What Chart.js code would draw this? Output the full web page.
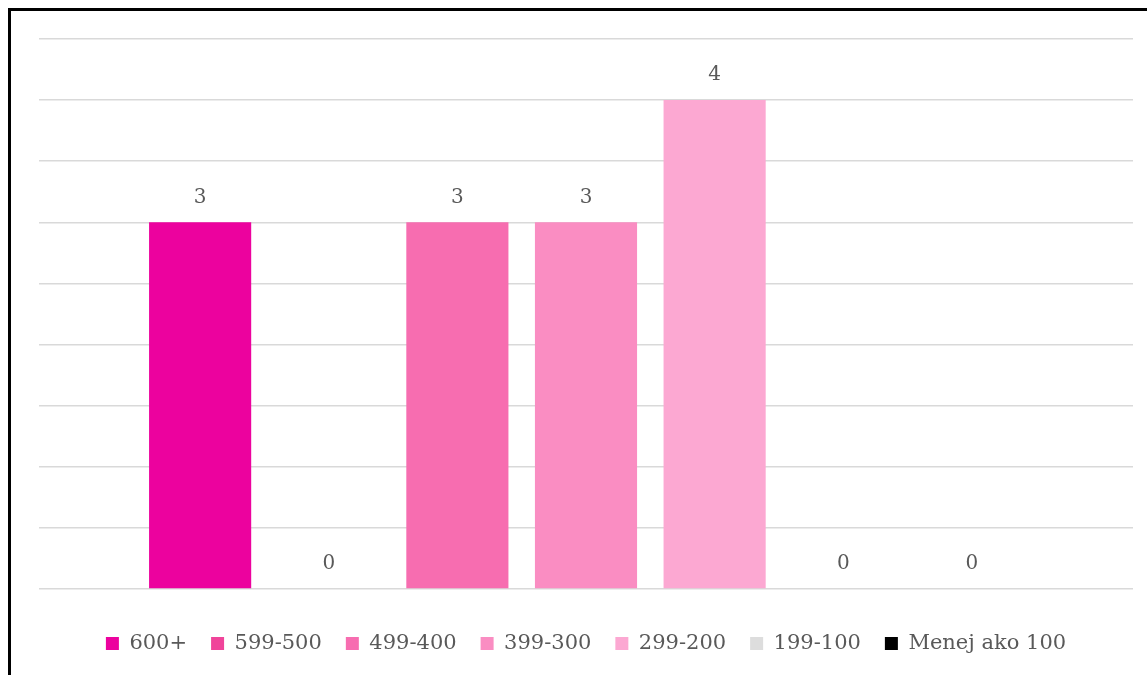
<!DOCTYPE html>
<html>
<head>
<meta charset="utf-8">
<script src="https://cdn.jsdelivr.net/npm/chart.js@4/dist/chart.umd.min.js"></script>
<style>
  html, body { margin: 0; padding: 0; background: #fff; overflow: hidden; }
  #frame { position: absolute; left: 8px; top: 8px; width: 1200px; height: 700px;
           border-left: 3px solid #000; border-top: 3px solid #000; }
  #wrap { position: absolute; left: 0; top: 0; width: 1147px; height: 675px; }
</style>
</head>
<body>
<div id="frame"></div>
<div id="wrap"><canvas id="myChart"></canvas></div>
<script>
const categories = [""];
const seriesNames = ["600+", "599-500", "499-400", "399-300", "299-200", "199-100", "Menej ako 100"];
const seriesValues = [3, 0, 3, 3, 4, 0, 0];
const seriesColors = ["#EC029E", "#F0449A", "#F76DB0", "#FA8DC2", "#FCA8D2", "#DDDDDD", "#000000"];

const fontFamily = "'DejaVu Serif', serif";
const textColor = "#595959";

// value labels above each bar
const valueLabels = {
  id: "valueLabels",
  afterDatasetsDraw(chart) {
    const ctx = chart.ctx;
    ctx.save();
    ctx.font = "20px " + fontFamily;
    ctx.fillStyle = textColor;
    ctx.textAlign = "center";
    ctx.textBaseline = "middle";
    chart.data.datasets.forEach((ds, i) => {
      const meta = chart.getDatasetMeta(i);
      meta.data.forEach((bar, j) => {
        ctx.fillText(ds.data[j], bar.x, bar.y - 25);
      });
    });
    ctx.restore();
  }
};

const datasets = seriesNames.map((name, i) => ({
  label: name,
  data: [seriesValues[i]],
  backgroundColor: seriesColors[i],
  borderWidth: 0,
  barPercentage: 0.794,
  categoryPercentage: 0.823
}));

const ctx = document.getElementById("myChart").getContext("2d");
const chart = new Chart(ctx, {
  type: "bar",
  data: { labels: categories, datasets: datasets },
  options: {
    responsive: true,
    maintainAspectRatio: false,
    animation: false,
    layout: { padding: { left: 39, right: 14, top: 39, bottom: 11 } },
    scales: {
      x: {
        grid: { display: false },
        border: { display: false },
        ticks: { display: true, padding: 3, font: { size: 5 } }
      },
      y: {
        min: 0,
        max: 4.5,
        ticks: { display: false, stepSize: 0.5 },
        grid: { color: "#D9D9D9", lineWidth: 1.5, drawTicks: false },
        border: { display: false }
      }
    },
    plugins: {
      legend: {
        position: "bottom",
        labels: {
          boxWidth: 13,
          boxHeight: 13,
          padding: 24,
          color: textColor,
          font: { family: fontFamily, size: 21 }
        }
      },
      tooltip: { enabled: false }
    }
  },
  plugins: [valueLabels]
});
</script>
</body>
</html>
